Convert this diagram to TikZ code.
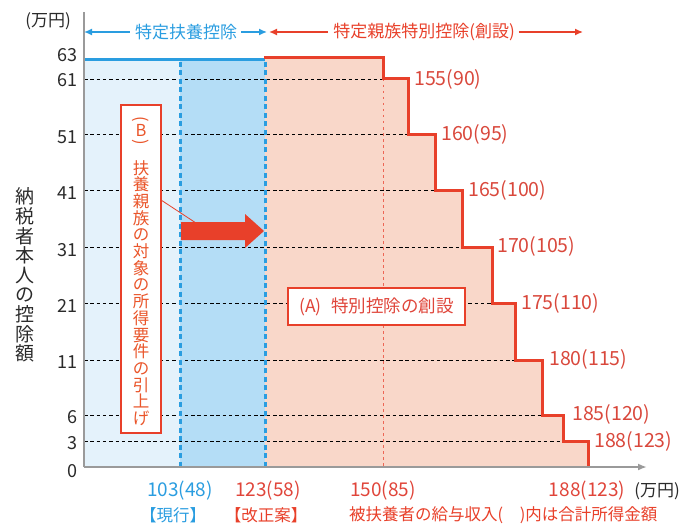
\documentclass[tikz,border=0pt]{standalone}
\usepackage{fontspec}
\setmainfont{Noto Sans CJK JP}
\usetikzlibrary{arrows.meta}
\definecolor{cblue}{HTML}{2A9DE0}
\definecolor{cred}{HTML}{E8402A}
\definecolor{ctxtred}{HTML}{E0453A}
\definecolor{corange}{HTML}{EA552A}
\definecolor{lblue}{HTML}{E4F2FB}
\definecolor{mblue}{HTML}{B4DDF6}
\definecolor{cpink}{HTML}{F9D7C9}
\definecolor{axgray}{HTML}{9A9A9A}
\definecolor{ctext}{HTML}{2A2A2A}
\definecolor{steplbl}{HTML}{D9483C}
\begin{document}
\begin{tikzpicture}[x=1pt,y=-1pt,
  lvl/.style={black, line width=0.8pt, dash pattern=on 3.5pt off 2.8pt},
  bluedash/.style={cblue, line width=3pt, dash pattern=on 5pt off 3.5pt},
  reddot/.style={cred!80, line width=1pt, dash pattern=on 2.5pt off 3.5pt},
  ticklbl/.style={anchor=east, text=ctext, font=\fontsize{18}{20}\selectfont, inner sep=0pt},
  stepname/.style={anchor=west, text=steplbl, font=\fontsize{19.5}{22}\selectfont, inner sep=0pt},
  botnum/.style={font=\fontsize{19}{22}\selectfont, inner sep=0pt},
  botjp/.style={font=\fontsize{16.5}{20}\selectfont, inner sep=0pt},
  hdr/.style={font=\fontsize{17}{20}\selectfont, inner sep=0pt},
  hdrarrow/.style={line width=1.4pt, -{Latex[length=8pt,width=7pt]}},
  boxstyle/.style={draw=cred, fill=white, line width=1.3pt, inner sep=0pt},
  btxt/.style={text=corange, font=\fontsize{16.5}{16.7}\selectfont, inner sep=0pt, align=center}
]
\useasboundingbox (0,0) rectangle (690,524);

% regions
\fill[lblue] (84,60) rectangle (180,467);
\fill[mblue] (180,60) rectangle (265,467);
\fill[cpink] (265,58) -| (383,79) -| (408,134) -| (435,190) -| (462,247) -| (492,303) -| (515,360) -| (542,415) -| (563,441) -| (588,467) -- (265,467) -- cycle;

% dashed level lines
\foreach \yy/\xx in {79/383,134/408,190/435,247/462,303/492,360/515,415/542,441/563}
  \draw[lvl] (84,\yy) -- (\xx,\yy);

% dotted vertical at 150
\draw[reddot] (383,79) -- (383,467);

% blue dashed verticals
\draw[bluedash] (180,62) -- (180,466);
\draw[bluedash] (265,62) -- (265,466);

% top lines and step outline
\draw[cblue, line width=3pt] (84,60) -- (265,60);
\draw[cred, line width=3pt] (264,58) -| (383,79) -| (408,134) -| (435,190) -| (462,247) -| (492,303) -| (515,360) -| (542,415) -| (563,441) -| (588,467);

% axes
\coordinate (O) at (84,467);
\coordinate (Ytop) at (84,12);
\coordinate (Xend) at (647,467);
\draw[axgray, line width=2pt] (O) -- (Ytop);
\draw[axgray, line width=2.2pt, -{Latex[length=9pt,width=7pt]}] (O) -- (Xend);

% tick labels
\foreach \v/\yy in {63/55,61/80,51/137,41/193,31/250,21/306,11/362,6/417,3/443,0/471}
  \node[ticklbl] (t\v) at (78,\yy) {\v};

% step labels
\node[stepname] (s155) at (414,79) {155(90)};
\node[stepname] (s160) at (441,134) {160(95)};
\node[stepname] (s165) at (468,190) {165(100)};
\node[stepname] (s170) at (497,246) {170(105)};
\node[stepname] (s175) at (521,303) {175(110)};
\node[stepname] (s180) at (549,359) {180(115)};
\node[stepname] (s185) at (572,414) {185(120)};
\node[stepname] (s188) at (594,441) {188(123)};

% header
\node[hdr, text=ctext] (unitY) at (48,21) {(万円)};
\node[hdr, text=cblue] (hb) at (186,32) {特定扶養控除};
\coordinate (hbL) at (84,32);
\coordinate (hbR) at (267,32);
\draw[hdrarrow, cblue] (hb.west) ++(-5,0) coordinate (hbW) -- (hbL);
\draw[hdrarrow, cblue] (hb.east) ++(4,0) coordinate (hbE) -- (hbR);
\node[hdr, text=cred] (hr) at (424,32) {特定親族特別控除(創設)};
\coordinate (hrL) at (269,32);
\coordinate (hrR) at (583,32);
\draw[hdrarrow, cred] (hr.west) ++(-5,0) coordinate (hrW) -- (hrL);
\draw[hdrarrow, cred] (hr.east) ++(4,0) coordinate (hrE) -- (hrR);

% y-axis title
\node[text=ctext, font=\fontsize{19}{19.6}\selectfont, align=center, inner sep=0pt] (ytitle) at (25,275) {納\\税\\者\\本\\人\\の\\控\\除\\額};

% B box
\node[boxstyle, minimum width=40pt, minimum height=328pt] (B) at (141,269) {};
\node[btxt, rotate=-90] (Bo) at (141,119) {(};
\node[btxt] (Bb) at (141,130) {B};
\node[btxt, rotate=-90] (Bc) at (141,142) {)};
\node[btxt] (Bt) at (141,293) {扶\\養\\親\\族\\の\\対\\象\\の\\所\\得\\要\\件\\の\\引\\上\\げ};
\coordinate (Bl) at (161,200);
\coordinate (BAt) at (196,223);
\draw[cred, line width=0.8pt] (Bl) -- (BAt);
\fill[cred] (181,222) -- (245,222) -- (245,214) -- (264,231) -- (245,248) -- (245,240) -- (181,240) -- cycle;

% A box
\node[boxstyle, minimum width=177pt, minimum height=37pt, text=ctxtred, font=\fontsize{17.5}{20}\selectfont] (A) at (376.5,306.5) {(A)\hspace{0.55em}特別控除の創設};

% bottom labels
\node[botnum, text=cblue] (x103) at (180,491) {103(48)};
\node[botnum, text=ctxtred] (x123) at (268,491) {123(58)};
\node[botnum, text=ctxtred] (x150) at (383,491) {150(85)};
\node[botnum, text=ctxtred] (x188) at (587,491) {188(123)};
\node[hdr, text=ctext] (unitX) at (657,491) {(万円)};
\node[botjp, text=cblue] (genko) at (173,515) {【現行】};
\node[botjp, text=cred] (kaisei) at (266,515) {【改正案】};
\node[botjp, text=cred, anchor=west] (note) at (349,515) {被扶養者の給与収入(\hspace{1em})内は合計所得金額};
\end{tikzpicture}
\end{document}
